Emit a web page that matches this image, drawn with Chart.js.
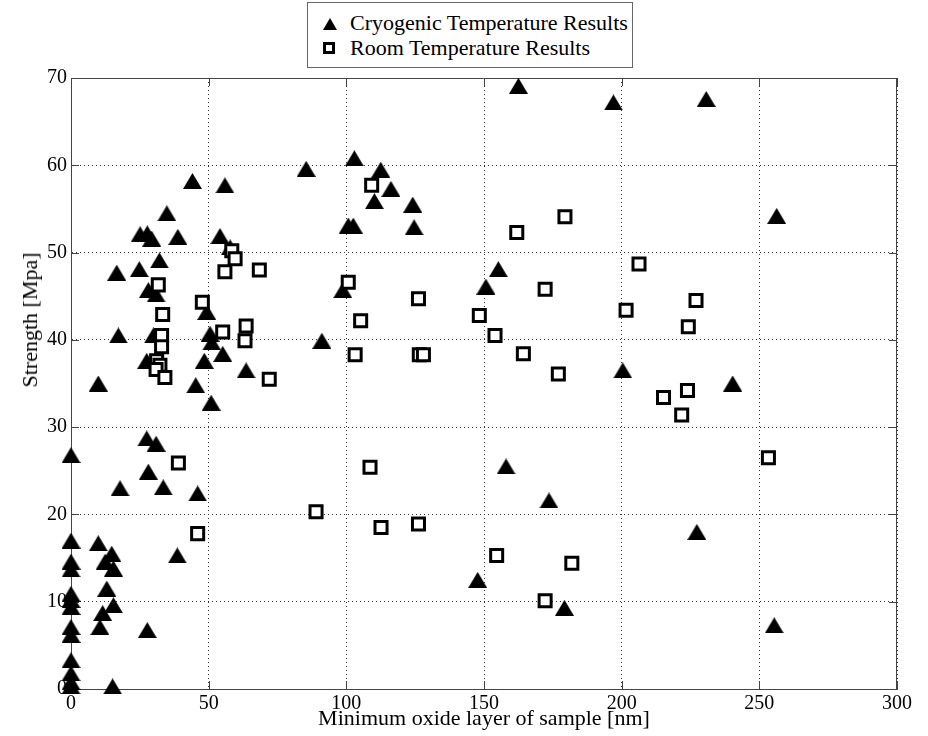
<!DOCTYPE html>
<html lang="en">
<head>
    <meta charset="UTF-8">
    <title>Strength vs oxide layer</title>
    <script src="https://cdn.jsdelivr.net/npm/chart.js"></script>
    <style>
        body { margin: 0; background: #fff; font-family: "Liberation Serif", "DejaVu Serif", serif; }
        #wrap { position: relative; width: 928px; height: 736px; }
        #legend { position: absolute; left: 307px; top: 2px; width: 324px; height: 64px; border: 1px solid #666; background: #fff; }
        #legend .lbl { position: absolute; left: 42px; font-size: 22px; line-height: 25px; white-space: nowrap; color: #000; }
        #legend .tri { position: absolute; left: 15px; top: 15px; width: 0; height: 0;
            border-left: 7px solid transparent; border-right: 7px solid transparent; border-bottom: 12px solid #000; }
        #legend .sq { position: absolute; left: 15px; top: 39px; width: 6px; height: 6px; border: 3px solid #000; background: #fff; }
        #ytitle { position: absolute; left: 30px; top: 320px; font-size: 22px; white-space: nowrap;
            transform: translate(-50%, -50%) rotate(-90deg); color: #000; }
    </style>
</head>
<body>

<div id="wrap">
    <canvas id="chart" width="928" height="736"></canvas>
    <div id="legend">
        <div class="tri"></div>
        <div class="lbl" style="top:7px">Cryogenic Temperature Results</div>
        <div class="sq"></div>
        <div class="lbl" style="top:32px">Room Temperature Results</div>
    </div>
    <div id="ytitle">Strength [Mpa]</div>
</div>

<script>
// values
const cryoX = [0, 0, 0, 0, 0, 0, 0, 0, 0, 0, 0, 0, 0,
    9.9, 14.8, 12.4, 15.4, 13, 15.4, 11.5, 10.5, 27.7, 15.1, 38.6, 17.8, 33.5, 46,
    28.1, 30.9, 49.3, 17.2, 29.9, 50.5, 51.1, 55.1, 27.5, 48.4, 63.6, 9.9, 45.3, 50.9, 27.5, 30.9, 28.1,
    44.1, 55.9, 34.8, 25.1, 27.7, 29.3, 38.8, 54.1, 57.8, 32.1, 16.6, 24.8,
    162.5, 85.4, 102.9, 112.5, 116.2, 110.2, 124.1, 100.7, 102.5, 124.6, 155.2, 150.7, 98.7, 91.1,
    158, 173.6, 147.7, 179.2,
    197, 230.7, 256.3, 200.4, 240.3, 227.3, 255.4];
const cryoY = [26.8, 17.0, 14.6, 13.7, 10.9, 10.2, 9.4, 7.1, 6.2, 3.3, 1.8, 0.8, 0.3,
    16.7, 15.5, 14.6, 13.8, 11.5, 9.6, 8.7, 7.1, 6.75, 0.3, 15.3, 23, 23.1, 22.4,
    45.7, 45.2, 43.2, 40.5, 40.5, 40.7, 39.7, 38.4, 37.6, 37.6, 36.5, 35, 34.8, 32.8, 28.7, 28.1, 24.9,
    58.2, 57.7, 54.5, 52.1, 52.2, 51.6, 51.8, 51.9, 50.6, 49.1, 47.7, 48.1,
    69.1, 59.6, 60.8, 59.5, 57.3, 55.9, 55.5, 53.1, 53.1, 52.9, 48.1, 46.1, 45.7, 39.9,
    25.5, 21.6, 12.5, 9.3,
    67.2, 67.6, 54.2, 36.5, 35, 18, 7.3];

const roomX = [46, 31.7, 47.7, 33.3, 55.1, 63.6, 63.2, 32.9, 32.9, 31.1, 32.3, 30.9, 34.1, 72, 39,
    58.4, 59.6, 55.9, 68.4,
    109.2, 179.4, 161.9, 100.7, 172.2, 126.2, 105.2, 148.3, 154, 103.2, 126.5, 128, 164.3, 177,
    108.6, 89, 112.6, 126.2, 154.6, 181.9, 172.2,
    206.3, 227, 201.6, 224.2, 215.2, 223.9, 221.8, 253.3];
const roomY = [17.8, 46.3, 44.3, 42.9, 40.9, 41.6, 39.9, 40.5, 39.2, 37.6, 37.1, 36.6, 35.7, 35.5, 25.9,
    50.2, 49.3, 47.8, 48.0,
    57.7, 54.1, 52.3, 46.6, 45.8, 44.7, 42.2, 42.8, 40.5, 38.3, 38.3, 38.3, 38.4, 36.1,
    25.4, 20.3, 18.5, 18.9, 15.3, 14.4, 10.1,
    48.7, 44.5, 43.4, 41.5, 33.4, 34.2, 31.4, 26.5];

const xTicks = [0, 50, 100, 150, 200, 250, 300];
const yTicks = [0, 10, 20, 30, 40, 50, 60, 70];

const toPoints = (xs, ys) => xs.map((x, i) => ({ x: x, y: ys[i] }));

// triangle marker centred on its bounding box, like matlab's '^'
function triangleMarker() {
    const c = document.createElement('canvas');
    c.width = 19;
    c.height = 16;
    const g = c.getContext('2d');
    g.fillStyle = '#000';
    g.beginPath();
    g.moveTo(9.5, 0);
    g.lineTo(19, 16);
    g.lineTo(0, 16);
    g.closePath();
    g.fill();
    return c;
}

// closed box and inward tick marks
const frame = {
    id: 'frame',
    beforeDatasetsDraw(chart) {
        const { ctx, chartArea: a, scales: { x, y } } = chart;
        ctx.save();
        ctx.strokeStyle = '#444';
        ctx.lineWidth = 1;
        ctx.beginPath();
        ctx.moveTo(a.left, a.top + 0.5);
        ctx.lineTo(a.right - 0.5, a.top + 0.5);
        ctx.lineTo(a.right - 0.5, a.bottom);
        xTicks.forEach(v => {
            const px = Math.round(x.getPixelForValue(v)) + 0.5;
            ctx.moveTo(px, a.bottom); ctx.lineTo(px, a.bottom - 8);
            ctx.moveTo(px, a.top); ctx.lineTo(px, a.top + 8);
        });
        yTicks.forEach(v => {
            const py = Math.round(y.getPixelForValue(v)) + 0.5;
            ctx.moveTo(a.left, py); ctx.lineTo(a.left + 8, py);
            ctx.moveTo(a.right, py); ctx.lineTo(a.right - 8, py);
        });
        ctx.stroke();
        ctx.restore();
    }
};

const tickFont = { family: '"Liberation Serif", serif', size: 20 };

new Chart(document.getElementById('chart'), {
    type: 'scatter',
    data: {
        datasets: [{
            label: 'Cryogenic Temperature Results',
            data: toPoints(cryoX, cryoY),
            pointStyle: triangleMarker(),
            pointRadius: 10,
            backgroundColor: '#000',
            borderColor: '#000',
            clip: false,
            order: 1
        }, {
            label: 'Room Temperature Results',
            data: toPoints(roomX, roomY),
            pointStyle: 'rect',
            pointRadius: 8.5,
            pointHoverRadius: 8.5,
            backgroundColor: '#fff',
            borderColor: '#000',
            borderWidth: 3,
            clip: false,
            order: 0
        }]
    },
    options: {
        responsive: false,
        animation: false,
        events: [],
        layout: { padding: { top: 78, right: 31, left: 0, bottom: 0 } },
        plugins: { legend: { display: false }, tooltip: { enabled: false } },
        scales: {
            x: {
                type: 'linear',
                min: 0,
                max: 300,
                afterBuildTicks: s => { s.ticks = xTicks.map(v => ({ value: v })); },
                afterFit: s => { s.height = 47; },
                ticks: { font: tickFont, color: '#000', padding: 3 },
                grid: { color: '#333', lineWidth: 1, drawTicks: false },
                border: { color: '#444', width: 1, dash: [1, 3] },
                title: {
                    display: true,
                    text: 'Minimum oxide layer of sample [nm]',
                    font: { family: '"Liberation Serif", serif', size: 22 },
                    color: '#000',
                    padding: { top: 0, bottom: 4 }
                }
            },
            y: {
                type: 'linear',
                min: 0,
                max: 70,
                afterBuildTicks: s => { s.ticks = yTicks.map(v => ({ value: v })); },
                afterFit: s => { s.width = 71; },
                ticks: { font: tickFont, color: '#000', padding: 4 },
                grid: { color: '#333', lineWidth: 1, drawTicks: false },
                border: { color: '#444', width: 1, dash: [1, 3] }
            }
        }
    },
    plugins: [frame]
});
</script>
</body>
</html>
